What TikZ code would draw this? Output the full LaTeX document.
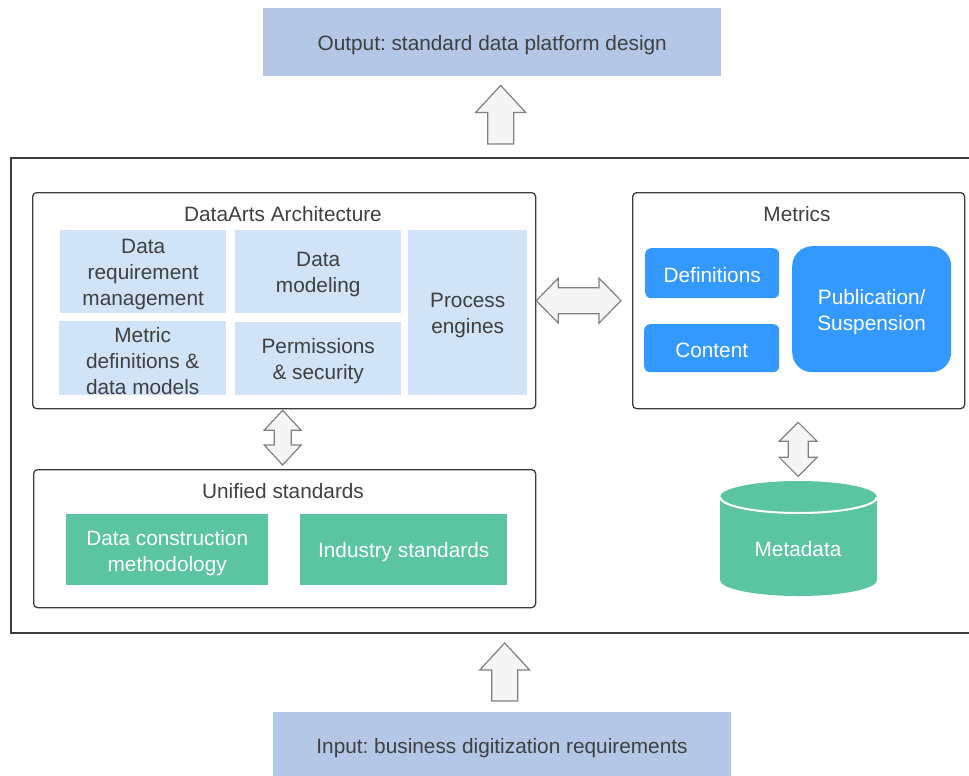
\documentclass[tikz,border=0pt]{standalone}
\usepackage{fontspec}
\setmainfont{Liberation Sans}
\frenchspacing
\usetikzlibrary{calc}
\definecolor{iofill}{RGB}{180,199,231}
\definecolor{cellc}{RGB}{208,227,247}
\definecolor{bluec}{RGB}{51,153,255}
\definecolor{greenc}{RGB}{91,196,160}
\definecolor{arrfill}{RGB}{245,245,245}
\definecolor{arrline}{RGB}{128,128,128}
\definecolor{linec}{RGB}{60,60,60}
\definecolor{txtc}{RGB}{64,64,64}
\newcommand{\uparr}[2]{%
  \draw[blk] let \p1=(#1), \p2=(#2) in
    (\x1,\y1) -- (\x1+25pt,\y1-27pt) -- (\x1+13pt,\y1-27pt) -- (\x1+13pt,\y2)
    -- (\x1-13pt,\y2) -- (\x1-13pt,\y1-27pt) -- (\x1-25pt,\y1-27pt) -- cycle;}
\newcommand{\vdarr}[5]{%
  \draw[blk] let \p1=(#1), \p2=(#2) in
    (\x1,\y1) -- (\x1+#3,\y1-#5) -- (\x1+#4,\y1-#5) -- (\x1+#4,\y2+#5) -- (\x1+#3,\y2+#5)
    -- (\x1,\y2) -- (\x1-#3,\y2+#5) -- (\x1-#4,\y2+#5) -- (\x1-#4,\y1-#5) -- (\x1-#3,\y1-#5) -- cycle;}
\newcommand{\hdarr}[5]{%
  \draw[blk] let \p1=(#1), \p2=(#2) in
    (\x1,\y1) -- (\x1+#5,\y1-#3) -- (\x1+#5,\y1-#4) -- (\x2-#5,\y1-#4) -- (\x2-#5,\y1-#3)
    -- (\x2,\y1) -- (\x2-#5,\y1+#3) -- (\x2-#5,\y1+#4) -- (\x1+#5,\y1+#4) -- (\x1+#5,\y1+#3) -- cycle;}
\begin{document}
\begin{tikzpicture}[x=1pt,y=-1pt,
  font=\fontsize{20.8}{26}\selectfont,
  every node/.style={text=txtc, inner sep=0pt, align=center},
  rect/.style={anchor=north west},
  iobox/.style={rect, fill=iofill},
  frame/.style={rect, draw=linec, line width=1.5pt},
  group/.style={rect, draw=linec, line width=1.3pt, rounded corners=4pt},
  cell/.style={rect, fill=cellc},
  bluebox/.style={rect, fill=bluec, rounded corners=6pt},
  greenbox/.style={rect, fill=greenc},
  wtxt/.style={text=white},
  blk/.style={fill=arrfill, draw=arrline, line width=1.2pt, line join=miter}]
\useasboundingbox (0,0) rectangle (969,776);
\clip (0,0) rectangle (969,776);

% input / output
\node[iobox, minimum width=458, minimum height=68] (out) at (263,8) {};
\node (outtext) at ($(out.center)+(0,3)$) {Output: standard data platform design};
\node[iobox, minimum width=458, minimum height=80] (in) at (273,712) {};
\node (intext) at (502,748) {Input: business digitization requirements};

% outer frame
\node[frame, minimum width=980, minimum height=475] (fr) at (10,157) {};

% DataArts architecture
\node[group, minimum width=503, minimum height=216] (da) at (32,192) {};
\node (datitle) at (283,214) {DataArts Architecture};
\node[cell, minimum width=166, minimum height=83] (c1) at (60,230) {};
\node[cell, minimum width=166, minimum height=83] (c2) at (235,230) {};
\node[cell, minimum width=167, minimum height=74] (c3) at (59,321) {};
\node[cell, minimum width=166, minimum height=73] (c4) at (235,322) {};
\node[cell, minimum width=119, minimum height=165] (c5) at (408,230) {};
\node (c1t) at ($(c1.center)+(0,2.5)$) {Data\\requirement\\management};
\node (c2t) at ($(c2.center)+(0,2.5)$) {Data\\modeling};
\node (c3t) at ($(c3.center)+(0,2.5)$) {Metric\\definitions \&\\data models};
\node (c4t) at ($(c4.center)+(0,2.5)$) {Permissions\\\& security};
\node (c5t) at ($(c5.center)+(0,2.5)$) {Process\\engines};

% Metrics
\node[group, minimum width=332, minimum height=216] (met) at (632,192) {};
\node (mettitle) at (797,214) {Metrics};
\node[bluebox, minimum width=134, minimum height=50] (def) at (645,248) {};
\node[bluebox, minimum width=135, minimum height=48] (con) at (644,324) {};
\node[bluebox, rounded corners=20pt, minimum width=159, minimum height=126] (pub) at (792,246) {};
\node[wtxt] (deft) at ($(def.center)+(0,1.5)$) {Definitions};
\node[wtxt] (cont) at ($(con.center)+(0,2)$) {Content};
\node[wtxt] (pubt) at ($(pub.center)+(0,2.5)$) {Publication/\\Suspension};

% Unified standards
\node[group, minimum width=502, minimum height=138] (uni) at (33,469) {};
\node (unititle) at (283,491) {Unified standards};
\node[greenbox, minimum width=202, minimum height=71] (g1) at (66,514) {};
\node[greenbox, minimum width=207, minimum height=71] (g2) at (300,514) {};
\node[wtxt] (g1t) at ($(g1.center)+(0,3)$) {Data construction\\methodology};
\node[wtxt] (g2t) at ($(g2.center)+(0,2.5)$) {Industry standards};

% Metadata cylinder
\node[minimum width=157, minimum height=116] (meta) at (798.5,538.5) {};
\fill[greenc] (720,497) -- (720,580)
  arc[start angle=180, end angle=0, x radius=78.5, y radius=16] -- (877,497)
  arc[start angle=0, end angle=-180, x radius=78.5, y radius=16] -- cycle;
\draw[white, line width=2pt] (720,497) arc[start angle=180, end angle=0, x radius=78.5, y radius=16];
\node[wtxt] (metatext) at (798,549) {Metadata};

% block arrows
\coordinate (a1t) at ($(out.south)+(8.5,9)$);
\coordinate (a1b) at ($(a1t |- fr.north)+(0,-13)$);
\uparr{a1t}{a1b}

\coordinate (a2t) at ($(in.north)+(2.5,-69)$);
\coordinate (a2b) at ($(in.north)+(2.5,-11)$);
\uparr{a2t}{a2b}

\coordinate (h1) at (da.east);
\coordinate (h2) at ($(met.west)+(-11,0)$);
\hdarr{h1}{h2}{22.5pt}{13pt}{22pt}

\coordinate (v1t) at ($(da.south)+(-1.5,1)$);
\coordinate (v1b) at ($(v1t |- uni.north)+(0,-4)$);
\vdarr{v1t}{v1b}{18.5pt}{8.5pt}{20pt}

\coordinate (v2t) at ($(met.south)+(-0.5,13)$);
\coordinate (v2b) at ($(meta.north)+(-1,-4)$);
\vdarr{v2t}{v2b}{19pt}{10pt}{19pt}
\end{tikzpicture}
\end{document}
